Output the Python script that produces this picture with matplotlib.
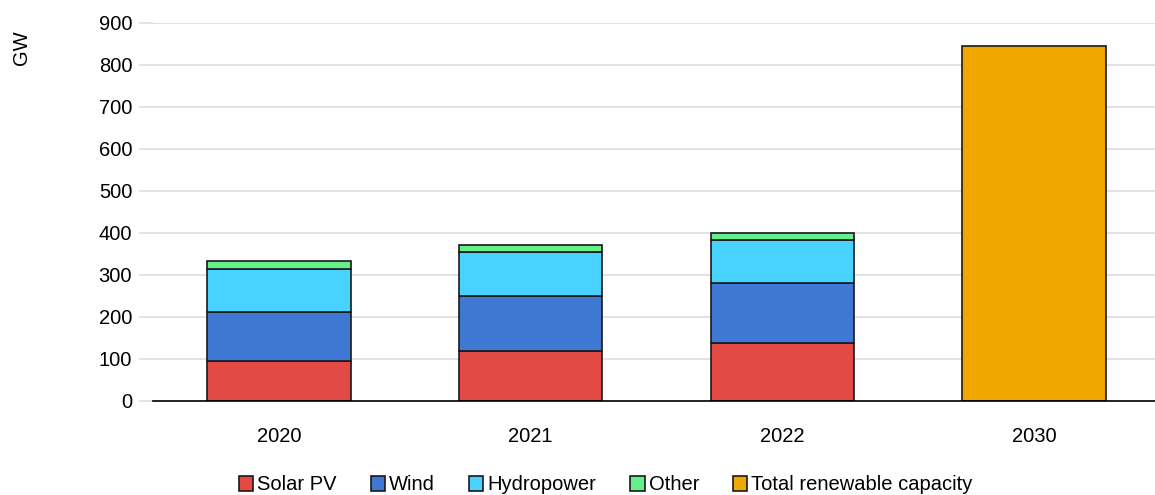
import numpy as np
import matplotlib.pyplot as plt

plt.rcParams['font.family'] = ['Liberation Sans', 'DejaVu Sans']

years = ['2020', '2021', '2022', '2030']
solar = [95, 118, 139, 0]
wind = [118, 133, 142, 0]
hydro = [102, 103, 102, 0]
other = [18, 17, 16, 0]
total = [0, 0, 0, 846]

fig = plt.figure(figsize=(11.55, 4.95), dpi=100)
ax = fig.add_axes([153/1155, 1 - 401/495, 1007/1155, (401 - 23)/495])

x = np.arange(len(years))
w = 0.57
ec = '#1a1a1a'
lw = 1.2

# stacks
b = np.zeros(len(years))
for vals, col, lab in [(solar, '#E34A46', 'Solar PV'), (wind, '#3E78D2', 'Wind'),
                       (hydro, '#48D2FF', 'Hydropower'), (other, '#66F08C', 'Other')]:
    v = np.array(vals, dtype=float)
    m = v > 0
    ax.bar(x[m], v[m], w, bottom=b[m], color=col, edgecolor=ec, linewidth=lw, label=lab, zorder=3)
    b = b + v
t = np.array(total, dtype=float)
ax.bar(x[t > 0], t[t > 0], w, color='#F0A800', edgecolor=ec, linewidth=lw,
       label='Total renewable capacity', zorder=3)

ax.set_xlim(-0.5, 3.5)
ax.set_ylim(0, 900)
ax.set_yticks(range(0, 901, 100))
ax.set_xticks(x)
ax.set_xticklabels(years)
ax.grid(axis='y', color='#dedede', linewidth=1.2, zorder=0)
for s in ['top', 'right', 'left']:
    ax.spines[s].set_visible(False)
ax.spines['bottom'].set_color('black')
ax.spines['bottom'].set_linewidth(1.2)
ax.spines['bottom'].set_zorder(4)
ax.tick_params(axis='y', length=10, color='#dedede', width=1.2, labelsize=14.5, pad=5)
ax.tick_params(axis='x', length=0, labelsize=14.5, pad=19)

fig.text(22/1155, 1 - 48/495, 'GW', rotation=90, fontsize=14.5, ha='center', va='center')

ax.legend(loc='center', bbox_to_anchor=(606/1155, 1 - 485/495), bbox_transform=fig.transFigure,
          ncol=5, frameon=False, fontsize=14.5, handlelength=0.7, handleheight=0.7,
          handletextpad=0.2, columnspacing=1.7, borderaxespad=0)

fig.savefig('out.png', dpi=100)
